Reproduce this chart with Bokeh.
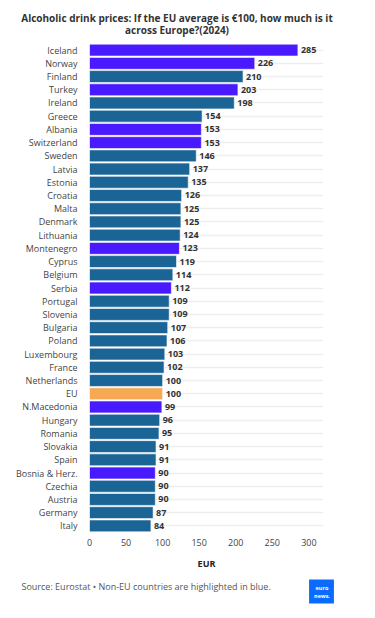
from bokeh.plotting import figure
from bokeh.models import ColumnDataSource, FactorRange, Range1d, FixedTicker, Label
from bokeh.core.properties import value
from bokeh.embed import file_html
from bokeh.resources import INLINE

countries = ["Iceland", "Norway", "Finland", "Turkey", "Ireland", "Greece", "Albania",
             "Switzerland", "Sweden", "Latvia", "Estonia", "Croatia", "Malta", "Denmark",
             "Lithuania", "Montenegro", "Cyprus", "Belgium", "Serbia", "Portugal", "Slovenia",
             "Bulgaria", "Poland", "Luxembourg", "France", "Netherlands", "EU", "N.Macedonia",
             "Hungary", "Romania", "Slovakia", "Spain", "Bosnia & Herz.", "Czechia", "Austria",
             "Germany", "Italy"]
prices = [285, 226, 210, 203, 198, 154, 153, 153, 146, 137, 135, 126, 125, 125, 124, 123,
          119, 114, 112, 109, 109, 107, 106, 103, 102, 100, 100, 99, 96, 95, 91, 91, 90, 90,
          90, 87, 84]
non_eu = ["Iceland", "Norway", "Turkey", "Albania", "Switzerland", "Montenegro", "Serbia",
          "N.Macedonia", "Bosnia & Herz."]
x_ticks = [0, 50, 100, 150, 200, 250, 300]

title_lines = ["Alcoholic drink prices: If the EU average is €100, how much is it",
               "across Europe?(2024)"]
source_text = "Source: Eurostat • Non-EU countries are highlighted in blue."

EU_BLUE = "#1b6496"
NON_EU = "#4a1aff"
EU_AVG = "#f5a952"
FONT = "Open Sans"

colors = []
for c in countries:
    if c == "EU":
        colors.append(EU_AVG)
    elif c in non_eu:
        colors.append(NON_EU)
    else:
        colors.append(EU_BLUE)

src = ColumnDataSource(dict(country=countries, price=prices, color=colors,
                            label=[str(v) for v in prices]))

FRAME_L, FRAME_W, FRAME_T, FRAME_H = 89, 234, 43, 489
W, H = 367, 614
XMAX = 320
N = len(countries)

p = figure(width=W, height=H, output_backend="svg", toolbar_location=None,
           y_range=FactorRange(factors=list(reversed(countries))),
           x_range=Range1d(0, XMAX),
           min_border_left=FRAME_L, min_border_right=W - FRAME_L - FRAME_W,
           min_border_top=FRAME_T, min_border_bottom=H - FRAME_T - FRAME_H)
p.outline_line_color = None

p.hbar(y="country", right="price", height=0.9, source=src, fill_color="color",
       line_color="white", line_width=0.6)
p.text(x="price", y="country", text="label", source=src, x_offset=3,
       text_baseline="middle", text_align="left", text_font=value(FONT),
       text_font_size="9px", text_font_style="bold", text_color="#333333")

p.xgrid.grid_line_color = None
p.ygrid.grid_line_color = "#eeeeee"
p.ygrid.grid_line_width = 1.5

p.xaxis.ticker = FixedTicker(ticks=x_ticks)
p.xaxis.axis_line_color = None
p.xaxis.major_tick_line_color = None
p.xaxis.minor_tick_line_color = None
p.xaxis.major_tick_out = 0
p.xaxis.major_label_standoff = 6
p.xaxis.major_label_text_font = FONT
p.xaxis.major_label_text_font_size = "9px"
p.xaxis.major_label_text_color = "#444444"
p.xaxis.axis_label = "EUR"
p.xaxis.axis_label_text_font = FONT
p.xaxis.axis_label_text_font_size = "9px"
p.xaxis.axis_label_text_font_style = "bold"
p.xaxis.axis_label_text_color = "#222222"
p.xaxis.axis_label_standoff = 8

p.yaxis.axis_line_color = None
p.yaxis.major_tick_line_color = None
p.yaxis.minor_tick_line_color = None
p.yaxis.major_label_standoff = 6
p.yaxis.major_label_text_font = FONT
p.yaxis.major_label_text_font_size = "9px"
p.yaxis.major_label_text_color = "#444444"


# helpers converting page pixel positions to data coordinates of the main scales
def dx(px):
    return (px - FRAME_L) * XMAX / FRAME_W


def dy(py):
    return (FRAME_T + FRAME_H - py) * N / FRAME_H


for i, t in enumerate(title_lines):
    p.add_layout(Label(x=dx(176.5), y=dy(17 + 12 * i), text=t, text_align="center",
                       text_baseline="middle", text_font=FONT, text_font_size="10px",
                       text_font_style="bold", text_color="#333333"), "above")

p.add_layout(Label(x=dx(21), y=dy(586), text=source_text, text_align="left",
                   text_baseline="middle", text_font=FONT, text_font_size="9px",
                   text_color="#555555"), "below")

p.add_layout(Label(x=dx(321), y=dy(591), text="euro\nnews.", text_align="center",
                   text_baseline="middle", text_font=FONT, text_font_size="5.5px",
                   text_font_style="bold", text_color="white",
                   background_fill_color="#0a6cff", padding=(5, 4, 4, 4),
                   text_line_height=1.0),
             "below")

open("out.html", "w").write(file_html(p, INLINE))
